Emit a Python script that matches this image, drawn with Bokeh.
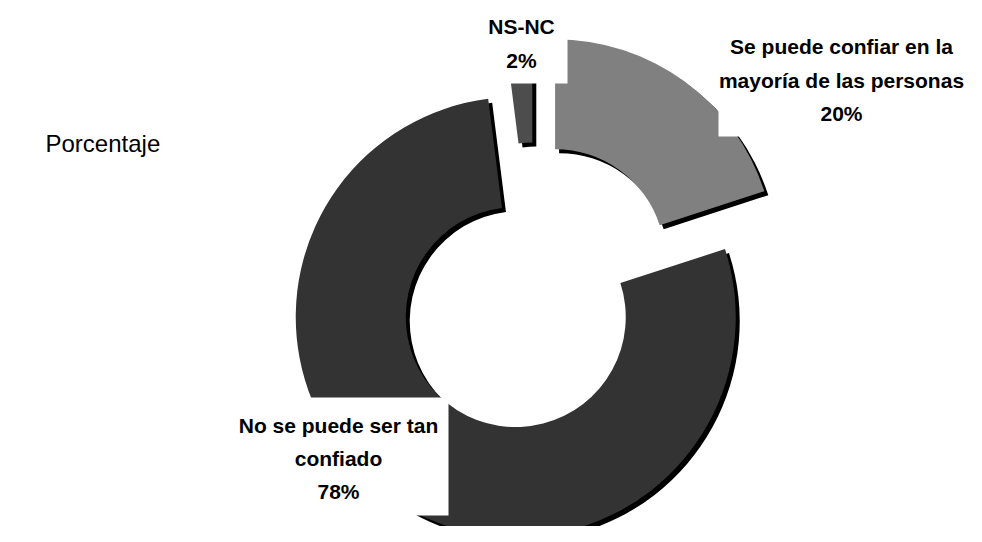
import math
from bokeh.plotting import figure
from bokeh.models import Range1d, ColumnDataSource
from bokeh.core.properties import value
from bokeh.embed import file_html
from bokeh.resources import INLINE

# ---- data ----
categories = ["Se puede confiar en la mayoría de las personas",
              "No se puede ser tan confiado",
              "NS-NC"]
values = [20, 78, 2]
slice_colors = ["#808080", "#333333", "#4D4D4D"]
label_lines = [["Se puede confiar en la", "mayoría de las personas", "20%"],
               ["No se puede ser tan", "confiado", "78%"],
               ["NS-NC", "2%"]]
side_title = "Porcentaje"

# ---- layout (screen pixel coordinates) ----
W, H = 966, 526
PAGE_H = 542


def Y(sy):
    return PAGE_H - sy


CX, CY = 534, 287
R_OUT, R_IN = 220, 110
EXPLODE = 35
SHADOW = 4

label_centers_x = [841, 338, 521]
label_baselines = [[46, 80, 113], [425, 458, 491], [26, 60]]
label_boxes = [(718, 985, 17, 136), (228, 448, 397, 515), (472, 567, -5, 83)]

p = figure(width=W, height=H, output_backend="svg", toolbar_location=None,
           x_range=Range1d(0, W), y_range=Range1d(PAGE_H - H, PAGE_H),
           min_border=0)
p.axis.visible = False
p.grid.visible = False
p.outline_line_color = None
p.background_fill_color = "white"
p.border_fill_color = "white"

total = float(sum(values))
xs, ys, starts, ends = [], [], [], []
cum = 0.0
for v in values:
    a1 = cum / total * 360.0
    a2 = (cum + v) / total * 360.0
    mid = math.radians((a1 + a2) / 2.0)
    sx = CX + EXPLODE * math.sin(mid)
    sy = CY - EXPLODE * math.cos(mid)
    xs.append(sx)
    ys.append(Y(sy))
    starts.append(math.radians(90 - a2))
    ends.append(math.radians(90 - a1))
    cum += v

shadow_src = ColumnDataSource(dict(x=[x + SHADOW for x in xs], y=[y - SHADOW for y in ys],
                                   start=starts, end=ends))
src = ColumnDataSource(dict(x=xs, y=ys, start=starts, end=ends, color=slice_colors,
                            name=categories))

p.annular_wedge(x="x", y="y", inner_radius=R_IN, outer_radius=R_OUT,
                start_angle="start", end_angle="end", direction="anticlock",
                fill_color="black", line_color=None, source=shadow_src)
p.annular_wedge(x="x", y="y", inner_radius=R_IN, outer_radius=R_OUT,
                start_angle="start", end_angle="end", direction="anticlock",
                fill_color="color", line_color=None, source=src)

# label boxes
p.quad(left=[b[0] for b in label_boxes], right=[b[1] for b in label_boxes],
       top=[Y(b[2]) for b in label_boxes], bottom=[Y(b[3]) for b in label_boxes],
       fill_color="white", line_color=None)

tx, ty, tt = [], [], []
for cx, lines, bls in zip(label_centers_x, label_lines, label_baselines):
    for line, bl in zip(lines, bls):
        tx.append(cx)
        ty.append(Y(bl))
        tt.append(line)
p.text(x=tx, y=ty, text=tt, text_font=value("Liberation Sans"),
       text_font_style="bold", text_font_size="21px", text_color="black",
       text_align="center", text_baseline="alphabetic")

p.text(x=[45], y=[Y(143)], text=[side_title], text_font=value("Liberation Sans"),
       text_font_size="24px", text_color="black", text_align="left",
       text_baseline="alphabetic")

open("out.html", "w").write(file_html(p, INLINE))
